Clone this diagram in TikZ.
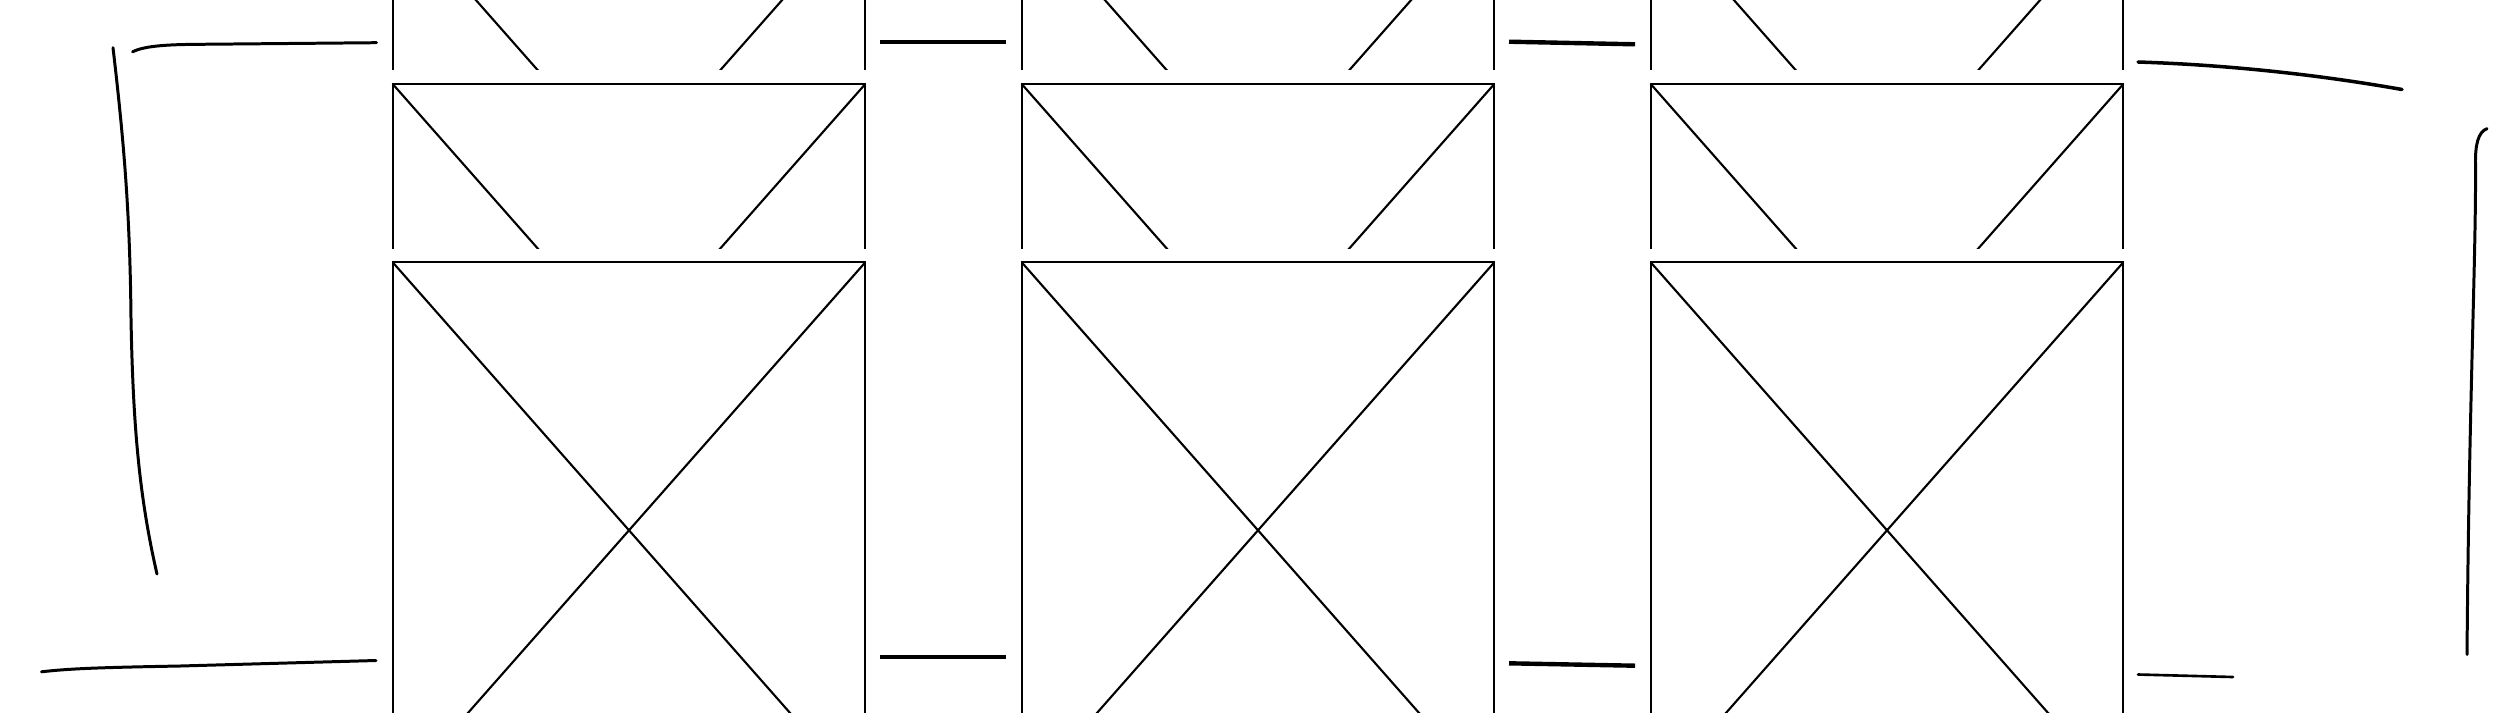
\documentclass[tikz,border=0pt]{standalone}
\usepackage{xcolor}
\usepackage{tikz}
\usetikzlibrary{positioning}
\usetikzlibrary{calc}

\begin{document}
\begin{tikzpicture}[x=0.01cm,y=-0.01cm,
  frame/.style={draw=black,line width=0.6pt},
  bar/.style={line width=1.25pt},
  pen stroke/.style={line width=0.85pt,line cap=round}]
\useasboundingbox (0,0) rectangle (2516,712);
\clip (0,0) rectangle (2516,712);
% stacked crossed frames, three columns
\foreach \xl in {392.7,1021.7,1650.7}{
  \foreach \ytop in {-94.3,84,262.3}{
    \fill[white] (\xl-3,\ytop-13.7) rectangle (\xl+475.6,\ytop+540);
    \draw[frame] (\xl,\ytop) rectangle (\xl+472.6,\ytop+536);
    \draw[frame] (\xl,\ytop) -- (\xl+472.6,\ytop+536);
    \draw[frame] (\xl+472.6,\ytop) -- (\xl,\ytop+536);
  }
}
% short bars between the columns
\draw[bar] (880,41.7) -- (1005.7,41.7);
\draw[bar] (1509,41.7) -- (1635,44.3);
\draw[bar] (880,656.7) -- (1006,656.7);
\draw[bar] (1509,663.3) -- (1635,665.7);
% hand drawn strokes, left side
\draw[pen stroke] (132.6,51.8) .. controls (145,45.5) and (170,44.5) .. (200,44.3) -- (376.5,42.7);
\draw[pen stroke] (113,47.7) .. controls (125,150) and (130,220) .. (131,318)
  .. controls (133,430) and (140,500) .. (157,574);
\draw[pen stroke] (41.5,671.8) .. controls (70,668.5) and (100,667.5) .. (180,666) -- (376,660.5);
% hand drawn strokes, right side
\draw[pen stroke,line width=1pt] (2138,62) .. controls (2230,65) and (2320,75) .. (2402,89.5);
\draw[pen stroke] (2487,128.6) .. controls (2478,132) and (2475,145) .. (2475.5,165)
  .. controls (2476,260) and (2469,400) .. (2467,654.5);
\draw[pen stroke,line width=0.75pt] (2138,674.5) -- (2233,677);
\end{tikzpicture}
\end{document}
